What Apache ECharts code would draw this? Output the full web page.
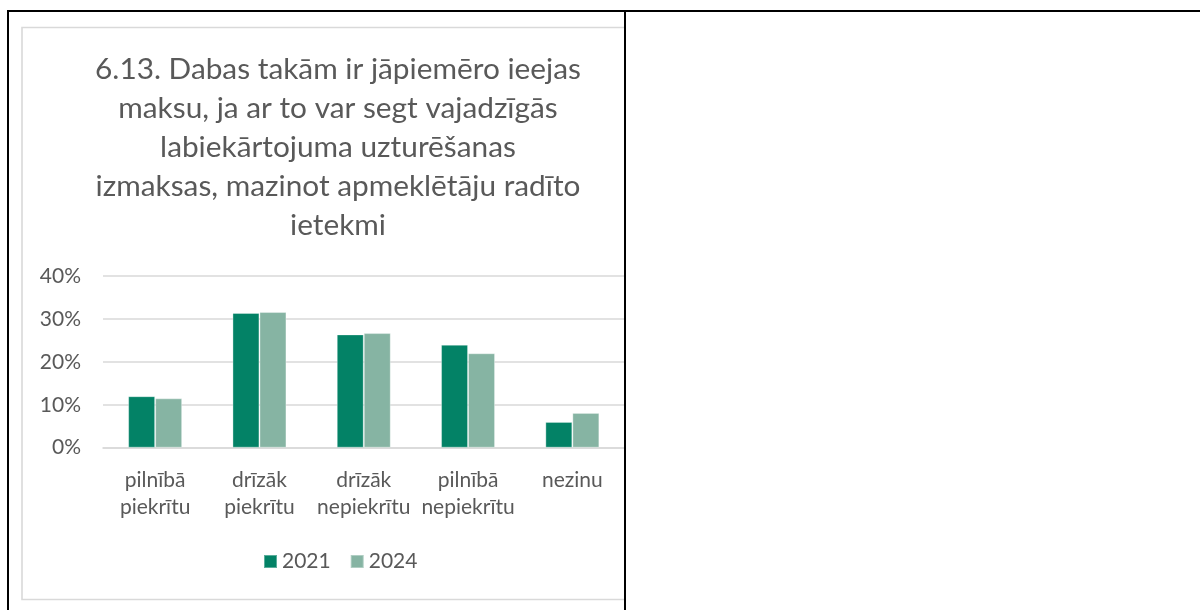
<!DOCTYPE html>
<html>
<head>
<meta charset="utf-8">
<title>6.13</title>
<script src="https://cdn.jsdelivr.net/npm/echarts@6/dist/echarts.min.js"></script>
<style>
    html, body { margin: 0; padding: 0; background: #fff; }
    #chart { width: 1200px; height: 610px; }
</style>
</head>
<body>
<div id="chart"></div>
<script>
// dati
var categories = ["pilnībā\npiekrītu", "drīzāk\npiekrītu", "drīzāk\nnepiekrītu", "pilnībā\nnepiekrītu", "nezinu"];
var years = ["2021", "2024"];
var values2021 = [12.0, 31.4, 26.4, 24.0, 6.0];
var values2024 = [11.5, 31.6, 26.7, 22.0, 8.1];
var yTicks = [0, 10, 20, 30, 40];

var titleText = "6.13. Dabas takām ir jāpiemēro ieejas\nmaksu, ja ar to var segt vajadzīgās\nlabiekārtojuma uzturēšanas\nizmaksas, mazinot apmeklētāju radīto\nietekmi";

var textColor = "#595959";
var fontName = "Lato";

//tabulas līnijas un diagrammas rāmis
function frameGraphics() {
    return [
        { type: 'rect', z: 0, shape: { x: 22, y: 27.5, width: 700, height: 572 },
          style: { fill: 'none', stroke: '#d9d9d9', lineWidth: 1.6 } },
        // labā puse aizsegta (diagramma nogriezta šūnā)
        { type: 'rect', z: 100, shape: { x: 626, y: 13, width: 600, height: 600 },
          style: { fill: '#fff' } },
        { type: 'line', z: 101, shape: { x1: 7, y1: 11, x2: 1200, y2: 11 },
          style: { stroke: '#000', lineWidth: 2 } },
        { type: 'line', z: 101, shape: { x1: 8, y1: 10, x2: 8, y2: 610 },
          style: { stroke: '#000', lineWidth: 2 } },
        { type: 'line', z: 101, shape: { x1: 625, y1: 10, x2: 625, y2: 610 },
          style: { stroke: '#000', lineWidth: 2 } }
    ];
}

function initChart() {
    var myChart = echarts.init(document.getElementById('chart'));
    var option = {
        backgroundColor: '#fff',
        animation: false,
        textStyle: { fontFamily: fontName },
        title: {
            text: titleText,
            left: 338,
            top: 50,
            padding: 0,
            textAlign: 'center',
            textStyle: { color: textColor, fontSize: 29.8, fontWeight: 'normal', lineHeight: 39, fontFamily: fontName }
        },
        legend: {
            data: years,
            left: 258,
            top: 546,
            itemWidth: 13,
            itemHeight: 13,
            itemGap: 19,
            icon: 'rect',
            textStyle: { color: textColor, fontSize: 21, fontFamily: fontName }
        },
        grid: { left: 103, right: 575.5, top: 276, bottom: 162.3 },
        xAxis: {
            type: 'category',
            data: categories,
            axisLine: { lineStyle: { color: '#d9d9d9', width: 1.6 } },
            axisTick: { show: false },
            axisLabel: { color: textColor, fontSize: 21, lineHeight: 27, margin: 19, interval: 0, fontFamily: fontName }
        },
        yAxis: {
            type: 'value',
            min: yTicks[0],
            max: yTicks[yTicks.length - 1],
            interval: 10,
            axisLine: { show: false },
            axisTick: { show: false },
            axisLabel: { color: textColor, fontSize: 21, margin: 22, formatter: '{value}%', fontFamily: fontName },
            splitLine: { lineStyle: { color: '#d9d9d9', width: 1.6 } }
        },
        series: [{
            name: years[0],
            type: 'bar',
            data: values2021,
            barWidth: 27,
            barGap: '0%',
            itemStyle: { color: '#038266', borderColor: 'rgba(255,255,255,0.35)', borderWidth: 1 }
        }, {
            name: years[1],
            type: 'bar',
            data: values2024,
            barWidth: 27,
            barGap: '0%',
            itemStyle: { color: '#86b4a3', borderColor: 'rgba(255,255,255,0.35)', borderWidth: 1 }
        }],
        graphic: frameGraphics()
    };
    myChart.setOption(option);
}

initChart();
</script>
</body>
</html>
